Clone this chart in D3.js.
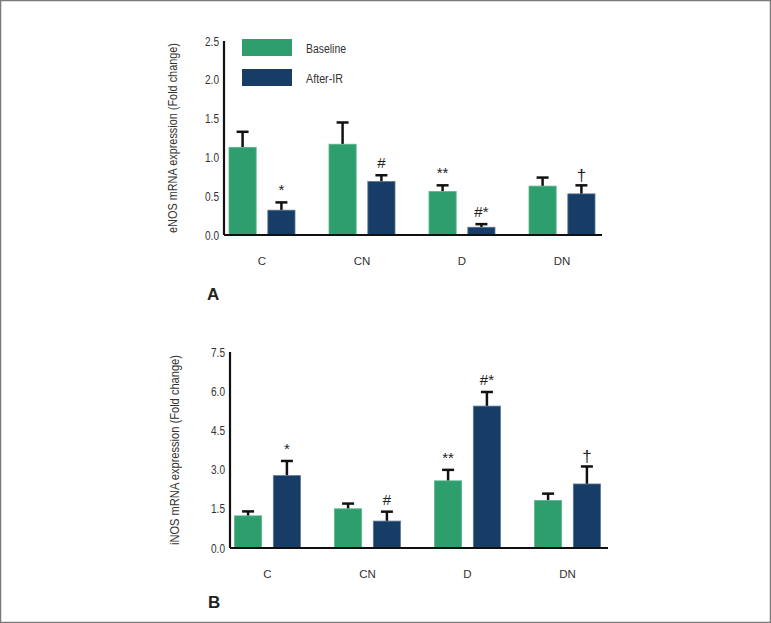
<!DOCTYPE html>
<html><head><meta charset="utf-8">
<script src="https://cdn.jsdelivr.net/npm/d3@7"></script>
<style>
html,body{margin:0;padding:0;background:#fff;}
svg{display:block;font-family:"Liberation Sans Narrow","Arial Narrow","Liberation Sans",Arial,sans-serif;}
</style></head>
<body>
<script>
const categories = ["C","CN","D","DN"];
const series = ["Baseline","After-IR"];
// Panel A: eNOS
const eNOSBaseline = [1.13, 1.17, 0.56, 0.63];
const eNOSBaselineErr = [0.20, 0.28, 0.08, 0.11];
const eNOSAfter = [0.32, 0.69, 0.10, 0.53];
const eNOSAfterErr = [0.10, 0.08, 0.04, 0.11];
const eNOSMarksBaseline = ["", "", "**", ""];
const eNOSMarksAfter = ["*", "#", "#*", "†"];
const eNOSTicks = [0, 0.5, 1.0, 1.5, 2.0, 2.5];
// Panel B: iNOS
const iNOSBaseline = [1.23, 1.50, 2.57, 1.82];
const iNOSBaselineErr = [0.17, 0.20, 0.42, 0.26];
const iNOSAfter = [2.77, 1.03, 5.43, 2.45];
const iNOSAfterErr = [0.56, 0.36, 0.54, 0.67];
const iNOSMarksBaseline = ["", "", "**", ""];
const iNOSMarksAfter = ["*", "#", "#*", "†"];
const iNOSTicks = [0, 1.5, 3.0, 4.5, 6.0, 7.5];

const colors = {"Baseline":"#2f9e6f","After-IR":"#173c65"};
const W = 771, H = 623;
const svg = d3.select("body").append("svg").attr("width", W).attr("height", H);
svg.append("rect").attr("x",0.5).attr("y",0.5).attr("width",W-1).attr("height",H-1)
  .attr("fill","#fff").attr("stroke","#7a7a7a").attr("stroke-width",1.5);

function fitWidth(sel, w){
  sel.each(function(){
    const len = this.getComputedTextLength();
    if (Math.abs(len - w) > 2) {
      d3.select(this).attr("textLength", w).attr("lengthAdjust","spacingAndGlyphs");
    }
  });
}

function panel(opts){
  const g = svg.append("g");
  const x = d3.scaleBand().domain(categories).range([opts.gx0, opts.gx0 + 400]).padding(0);
  const xs = d3.scaleBand().domain(series).range([17, 83]).paddingInner(0.3);
  const y = d3.scaleLinear().domain([0, opts.ymax]).range([opts.y0, opts.y1]);

  const data = [];
  categories.forEach((c,i)=>{
    data.push({c, s:"Baseline", v:opts.base[i], e:opts.baseErr[i], m:opts.mb[i]});
    data.push({c, s:"After-IR", v:opts.after[i], e:opts.afterErr[i], m:opts.ma[i]});
  });
  const eg = g.append("g").attr("stroke","#111").attr("stroke-width",2.5).attr("fill","none");
  data.forEach(d=>{
    const cx = x(d.c) + xs(d.s) + xs.bandwidth()/2;
    eg.append("line").attr("x1",cx).attr("x2",cx).attr("y1",y(d.v)).attr("y2",y(d.v+d.e));
    eg.append("line").attr("x1",cx-6).attr("x2",cx+6).attr("y1",y(d.v+d.e)).attr("y2",y(d.v+d.e));
  });
  g.append("g").selectAll("rect").data(data).join("rect")
    .attr("x", d=>x(d.c)+xs(d.s))
    .attr("width", xs.bandwidth())
    .attr("y", d=>y(d.v))
    .attr("height", d=>y(0)-y(d.v))
    .attr("fill", d=>colors[d.s])
    .attr("stroke", d=> d.s==="Baseline" ? "#5bb58c" : "#5d7896")
    .attr("stroke-width", 0.8);
  g.append("g").selectAll("text").data(data.filter(d=>d.m)).join("text")
    .attr("x", d=>x(d.c)+xs(d.s)+xs.bandwidth()/2)
    .attr("y", d=>y(d.v+d.e) - (d.m==="†" ? 4 : 7))
    .attr("text-anchor","middle")
    .attr("font-size", d=> d.m==="†" ? 17 : 15)
    .attr("fill","#222")
    .text(d=>d.m);

  const ya = g.append("g").attr("transform",`translate(${opts.ax},0)`)
    .call(d3.axisLeft(y).tickValues(opts.ticks).tickFormat(d3.format(".1f")).tickSize(0).tickPadding(5));
  ya.select(".domain").attr("stroke","#111").attr("stroke-width",2.2).attr("d",`M0,${opts.y0}V${opts.y1}`);
  ya.selectAll("text").attr("font-size",12.5).attr("fill","#333")
    .attr("font-family",null);
  fitWidth(ya.selectAll("text"), 14);
  g.append("line").attr("x1",opts.ax).attr("x2",opts.axEnd).attr("y1",opts.y0).attr("y2",opts.y0)
    .attr("stroke","#111").attr("stroke-width",2.2);
  const cl = g.append("g").selectAll("text").data(categories).join("text")
    .attr("x", c=>x(c)+50).attr("y", opts.y0 + 30)
    .attr("text-anchor","middle").attr("font-size",11.5).attr("fill","#333").text(c=>c);
  const tt = g.append("text").attr("transform",`translate(${opts.tx},${(opts.y0+opts.y1)/2}) rotate(-90)`)
    .attr("text-anchor","middle").attr("font-size",12.5).attr("fill","#333").text(opts.title);
  fitWidth(tt, 190);
  g.append("text").attr("x",opts.lx).attr("y",opts.ly).attr("font-size",17).attr("font-weight","bold")
    .attr("font-family","Liberation Sans, Arial, sans-serif")
    .attr("fill","#222").text(opts.letter);
  return g;
}

panel({gx0:212, y0:235, y1:41, ymax:2.5, ax:224, axEnd:602, ticks:eNOSTicks,
  base:eNOSBaseline, baseErr:eNOSBaselineErr, after:eNOSAfter, afterErr:eNOSAfterErr,
  mb:eNOSMarksBaseline, ma:eNOSMarksAfter, title:"eNOS mRNA expression (Fold change)",
  tx:177, letter:"A", lx:207, ly:300});

panel({gx0:217.5, y0:548, y1:352, ymax:7.5, ax:230, axEnd:608, ticks:iNOSTicks,
  base:iNOSBaseline, baseErr:iNOSBaselineErr, after:iNOSAfter, afterErr:iNOSAfterErr,
  mb:iNOSMarksBaseline, ma:iNOSMarksAfter, title:"iNOS mRNA expression (Fold change)",
  tx:179, letter:"B", lx:208, ly:608});

const leg = svg.append("g");
series.forEach((s,i)=>{
  leg.append("rect").attr("x",242).attr("y",39 + i*30).attr("width",50).attr("height",17)
    .attr("fill",colors[s]);
  const t = leg.append("text").attr("x",306).attr("y",39 + i*30 + 13.5).attr("font-size",12.5)
    .attr("fill","#333").text(s);
  fitWidth(t, s==="Baseline" ? 40 : 37);
});
</script>
</body></html>
